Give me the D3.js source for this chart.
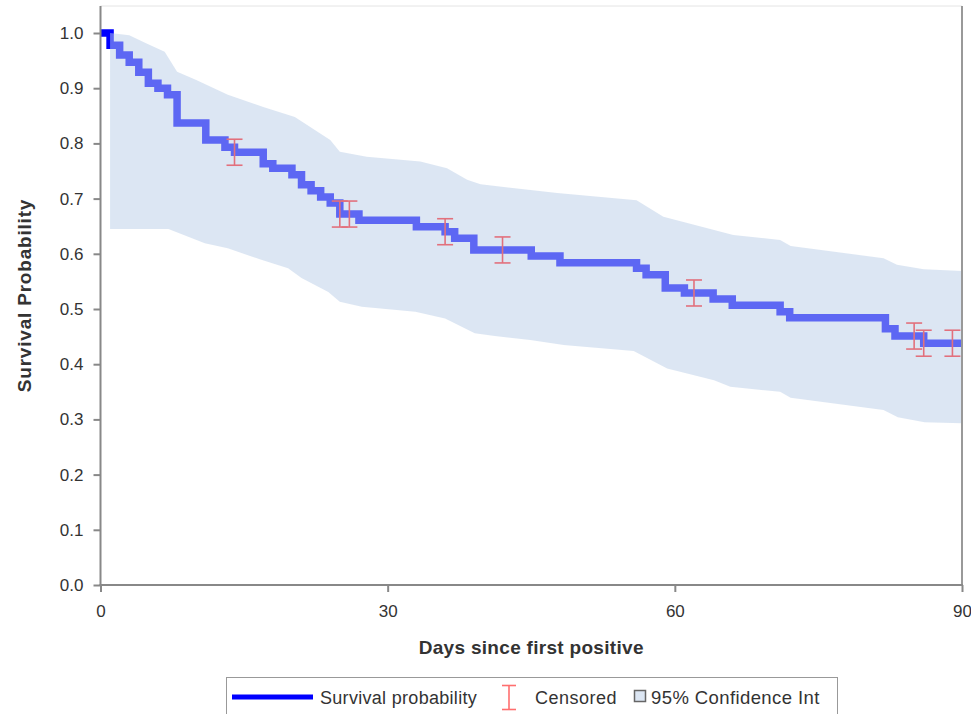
<!DOCTYPE html>
<html>
<head>
<meta charset="utf-8">
<script src="https://cdn.jsdelivr.net/npm/d3@7"></script>
<style>
  body { margin: 0; background: #fff; }
  text { font-family: "Liberation Sans", Arial, sans-serif; fill: #333; }
</style>
</head>
<body>
<script>
//kaplan-meier step curve (day the step starts, survival from then on)
var stepDays = [0, 1, 2, 3, 4, 5, 6, 7, 8, 11, 13, 14, 17, 18, 20, 21, 22, 23, 24, 25, 27, 33, 36, 37, 39, 45, 48, 56, 57, 59, 61, 64, 66, 71, 72, 82, 83, 86];
var stepSurv = [1.0, 0.978, 0.96, 0.947, 0.929, 0.909, 0.90, 0.888, 0.837, 0.806, 0.793, 0.784, 0.763, 0.755, 0.743, 0.725, 0.714, 0.703, 0.692, 0.672, 0.661, 0.649, 0.64, 0.628, 0.607, 0.596, 0.584, 0.574, 0.562, 0.538, 0.529, 0.518, 0.507, 0.495, 0.484, 0.464, 0.451, 0.438];
var lastDay = 90;

//censored observations
var censorDays = [14, 25, 26, 36, 42, 62, 85, 86, 89];

//95% confidence band
var upperDays = [1, 3, 4.7, 6.7, 8, 10, 13.3, 17, 20.3, 24, 25, 27.8, 33.4, 36.2, 38.3, 39.7, 47.7, 56, 58.8, 66.1, 71, 72.1, 81.8, 83.2, 86, 90];
var upperVals = [1.0, 0.996, 0.982, 0.966, 0.93, 0.915, 0.888, 0.866, 0.848, 0.806, 0.785, 0.776, 0.767, 0.755, 0.734, 0.726, 0.71, 0.697, 0.667, 0.634, 0.625, 0.614, 0.592, 0.58, 0.572, 0.569];
var lowerDays = [1, 7.1, 10.9, 13.3, 16.8, 19.6, 21, 23.8, 25, 27.3, 32.9, 36, 39.1, 41.2, 44.9, 48.4, 55.7, 59.2, 64.1, 65.8, 71, 72.1, 81.8, 83.3, 86.1, 90];
var lowerVals = [0.645, 0.645, 0.619, 0.61, 0.589, 0.574, 0.556, 0.531, 0.513, 0.504, 0.495, 0.483, 0.456, 0.451, 0.444, 0.435, 0.424, 0.392, 0.371, 0.359, 0.35, 0.339, 0.317, 0.304, 0.295, 0.293];

//axis ticks
var xTicks = [0, 30, 60, 90];
var yTicks = [0, 0.1, 0.2, 0.3, 0.4, 0.5, 0.6, 0.7, 0.8, 0.9, 1.0];

//legend entries
var legendLabels = ['Survival probability', 'Censored', '95% Confidence Int'];

//setup size
var width = 971, height = 714;
var plotLeft = 100.5, plotRight = 962, plotTop = 6, plotBottom = 585;

var xScale = d3.scaleLinear().domain([0, 90]).range([plotLeft, plotRight]);
var yScale = d3.scaleLinear().domain([0, 1]).range([plotBottom, 33]);

var svg = d3.select('body').append('svg')
    .attr('width', width)
    .attr('height', height);

//survival lookup for censor marks
function survAt(day) {
    var i = d3.bisectRight(stepDays, day) - 1;
    return stepSurv[Math.max(i, 0)];
}

//step line
var stepData = stepDays.map(function(d, i) { return {day: d, s: stepSurv[i]}; });
stepData.push({day: lastDay, s: stepSurv[stepSurv.length - 1]});

var stepLine = d3.line()
    .x(function(d) { return xScale(d.day); })
    .y(function(d) { return yScale(d.s); })
    .curve(d3.curveStepAfter);

svg.append('path')
    .datum(stepData)
    .attr('d', stepLine)
    .attr('fill', 'none')
    .attr('stroke', '#0000ff')
    .attr('stroke-width', 7.5)
    .attr('stroke-linejoin', 'miter');

//band goes over the line, semi transparent
var bandData = upperDays.map(function(d, i) { return [d, upperVals[i]]; })
    .concat(lowerDays.map(function(d, i) { return [d, lowerVals[i]]; }).reverse());

svg.append('path')
    .datum(bandData)
    .attr('d', d3.line()
        .x(function(d) { return xScale(d[0]); })
        .y(function(d) { return yScale(d[1]); }))
    .attr('fill', 'rgb(185,205,231)')
    .attr('fill-opacity', 0.5)
    .attr('stroke', 'none');

//censor marks
function censorMark(g, cx, cy, h, w, color) {
    g.append('line').attr('x1', cx).attr('x2', cx).attr('y1', cy - h / 2).attr('y2', cy + h / 2);
    g.append('line').attr('x1', cx - w / 2).attr('x2', cx + w / 2).attr('y1', cy - h / 2).attr('y2', cy - h / 2);
    g.append('line').attr('x1', cx - w / 2).attr('x2', cx + w / 2).attr('y1', cy + h / 2).attr('y2', cy + h / 2);
    g.selectAll('line').attr('stroke', color).attr('stroke-width', 1.6);
}

censorDays.forEach(function(d) {
    var g = svg.append('g');
    censorMark(g, xScale(d), yScale(survAt(d)), 26, 16, '#e2707c');
});

//frame
svg.append('line').attr('x1', plotLeft).attr('x2', plotRight).attr('y1', plotTop).attr('y2', plotTop)
    .attr('stroke', '#e4e4e4').attr('stroke-width', 1);
svg.append('line').attr('x1', plotRight).attr('x2', plotRight).attr('y1', plotTop).attr('y2', plotBottom)
    .attr('stroke', '#999').attr('stroke-width', 2);

//y axis
var yAxis = d3.axisLeft(yScale)
    .tickValues(yTicks)
    .tickFormat(d3.format('.1f'))
    .tickSize(7)
    .tickPadding(10);

var yG = svg.append('g')
    .attr('transform', 'translate(' + plotLeft + ',0)')
    .call(yAxis);

//x axis
var xAxis = d3.axisBottom(xScale)
    .tickValues(xTicks)
    .tickSize(7)
    .tickPadding(13);

var xG = svg.append('g')
    .attr('transform', 'translate(0,' + plotBottom + ')')
    .call(xAxis);

[yG, xG].forEach(function(g) {
    g.select('.domain').remove();
    g.selectAll('.tick line').attr('stroke', '#888').attr('stroke-width', 2);
    g.selectAll('.tick text').style('font-size', '17px').style('font-family', '"Liberation Sans", Arial, sans-serif').attr('fill', '#333');
});

//axis lines drawn by hand so they reach the frame top
svg.append('line').attr('x1', plotLeft).attr('x2', plotLeft).attr('y1', plotTop).attr('y2', plotBottom + 1)
    .attr('stroke', '#888').attr('stroke-width', 2);
svg.append('line').attr('x1', plotLeft - 1).attr('x2', plotRight + 1).attr('y1', plotBottom).attr('y2', plotBottom)
    .attr('stroke', '#888').attr('stroke-width', 2);

//axis titles
svg.append('text')
    .attr('x', (plotLeft + plotRight) / 2)
    .attr('y', 654)
    .attr('text-anchor', 'middle')
    .style('font-size', '19px')
    .style('font-weight', 'bold')
    .style('letter-spacing', '0.3px')
    .text('Days since first positive');

svg.append('text')
    .attr('transform', 'translate(31,' + (plotTop + plotBottom) / 2 + ') rotate(-90)')
    .attr('text-anchor', 'middle')
    .style('font-size', '19px')
    .style('font-weight', 'bold')
    .style('letter-spacing', '0.8px')
    .text('Survival Probability');

//legend
var legend = svg.append('g');
legend.append('rect')
    .attr('x', 226.5).attr('y', 677.5)
    .attr('width', 611).attr('height', 60)
    .attr('fill', '#fff').attr('stroke', '#999');

legend.append('line')
    .attr('x1', 232).attr('x2', 313).attr('y1', 697).attr('y2', 697)
    .attr('stroke', '#0000ff').attr('stroke-width', 5);
legend.append('text').attr('x', 320).attr('y', 704).style('font-size', '18px').style('letter-spacing', '0.3px').text(legendLabels[0]);

censorMark(legend.append('g'), 509, 697.5, 24, 14, '#ff6f6f');
legend.append('text').attr('x', 535).attr('y', 704).style('font-size', '18px').style('letter-spacing', '0.5px').text(legendLabels[1]);

legend.append('rect')
    .attr('x', 634.5).attr('y', 690.5).attr('width', 11).attr('height', 11)
    .attr('fill', 'rgb(220,230,243)').attr('stroke', '#666').attr('stroke-width', 1.5);
legend.append('text').attr('x', 651).attr('y', 704).style('font-size', '18.5px').style('letter-spacing', '0.4px').text(legendLabels[2]);
</script>
</body>
</html>
